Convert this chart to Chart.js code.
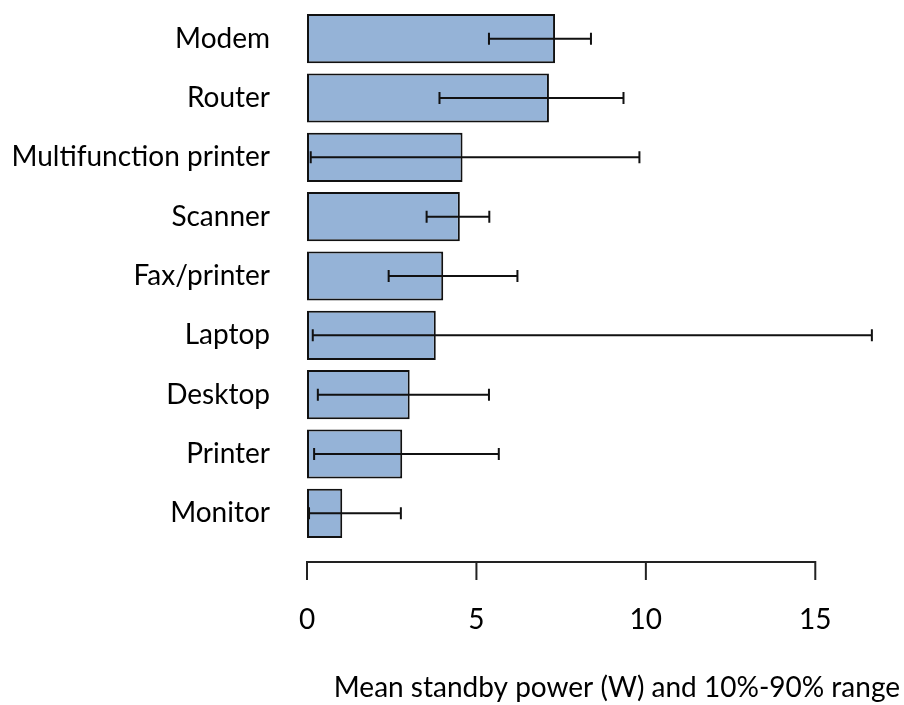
<!DOCTYPE html>
<html>
<head>
<meta charset="utf-8">
<script src="https://cdn.jsdelivr.net/npm/chart.js@4/dist/chart.umd.min.js"></script>
<style>
  html, body { margin: 0; padding: 0; background: #fff; }
  #wrap { width: 904px; height: 705px; position: relative; }
</style>
</head>
<body>
<div id="wrap"><canvas id="standbyChart"></canvas></div>
<script>
const categories = ["Modem", "Router", "Multifunction printer", "Scanner", "Fax/printer", "Laptop", "Desktop", "Printer", "Monitor"];
const meanPower = [7.32, 7.14, 4.59, 4.51, 4.02, 3.80, 3.03, 2.81, 1.04];
const p10 = [5.37, 3.91, 0.11, 3.53, 2.41, 0.17, 0.32, 0.21, 0.06];
const p90 = [8.38, 9.34, 9.81, 5.38, 6.21, 16.67, 5.37, 5.66, 2.77];
const xTicks = [0, 5, 10, 15];
const axisTitle = "Mean standby power (W) and 10%-90% range";

const FONT = "Lato, 'Open Sans', sans-serif";

// error bars + detached x axis line, drawn from the chart scales
const extras = {
  id: "extras",
  afterDatasetsDraw(chart) {
    const { ctx, scales: { x, y }, chartArea } = chart;
    ctx.save();
    ctx.strokeStyle = "#111";
    ctx.lineWidth = 2;
    categories.forEach((c, i) => {
      const cy = y.getPixelForValue(i);
      const x1 = x.getPixelForValue(p10[i]);
      const x2 = x.getPixelForValue(p90[i]);
      ctx.beginPath();
      ctx.moveTo(x1, cy); ctx.lineTo(x2, cy);
      ctx.moveTo(x1, cy - 6); ctx.lineTo(x1, cy + 6);
      ctx.moveTo(x2, cy - 6); ctx.lineTo(x2, cy + 6);
      ctx.stroke();
    });

    const ay = chartArea.bottom + 19;
    ctx.strokeStyle = "#222";
    ctx.beginPath();
    ctx.moveTo(x.getPixelForValue(xTicks[0]), ay);
    ctx.lineTo(x.getPixelForValue(xTicks[xTicks.length - 1]), ay);
    xTicks.forEach(t => {
      const px = x.getPixelForValue(t);
      ctx.moveTo(px, ay - 1);
      ctx.lineTo(px, ay + 18);
    });
    ctx.stroke();
    ctx.restore();
  }
};

new Chart(document.getElementById("standbyChart"), {
  type: "bar",
  data: {
    labels: categories,
    datasets: [{
      data: meanPower,
      backgroundColor: "#95B3D7",
      borderColor: "#111",
      borderWidth: 2,
      borderSkipped: false,
      barPercentage: 0.83,
      categoryPercentage: 1
    }]
  },
  options: {
    indexAxis: "y",
    responsive: true,
    maintainAspectRatio: false,
    animation: false,
    layout: { padding: { top: 9, right: 4, bottom: 0, left: 0 } },
    plugins: {
      legend: { display: false },
      tooltip: { enabled: false }
    },
    scales: {
      y: {
        type: "category",
        offset: true,
        grid: { display: false, drawTicks: false },
        border: { display: false },
        ticks: { color: "#000", font: { family: FONT, size: 28 }, padding: 37 },
        afterFit: s => { s.width = 307; s.paddingTop = 0; s.paddingBottom = 0; }
      },
      x: {
        min: 0,
        max: 17.5,
        grid: { display: false, drawTicks: false },
        border: { display: false },
        afterBuildTicks: s => { s.ticks = xTicks.map(v => ({ value: v })); },
        ticks: { color: "#000", font: { family: FONT, size: 28 }, padding: 60, maxRotation: 0 },
        title: {
          display: true,
          text: axisTitle,
          align: "end",
          color: "#000",
          font: { family: FONT, size: 28 },
          padding: { top: 0, bottom: 0 }
        },
        afterFit: s => { s.height = 162; s.paddingLeft = 0; s.paddingRight = 0; }
      }
    }
  },
  plugins: [extras]
});
</script>
</body>
</html>
